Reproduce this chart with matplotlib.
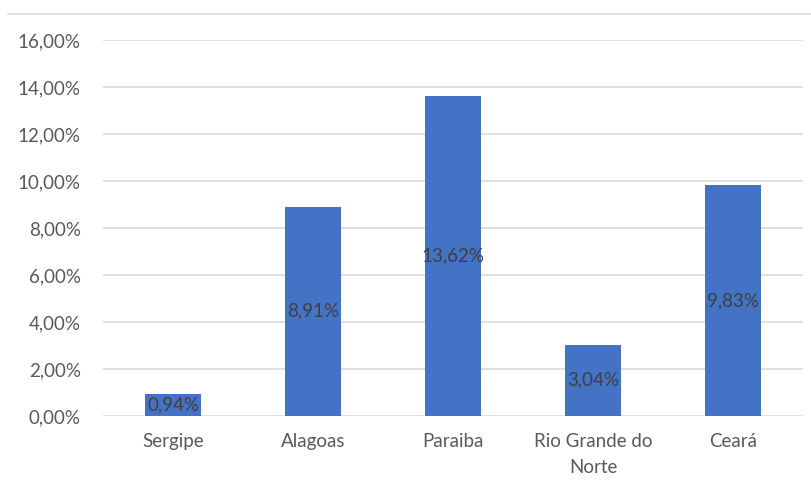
import matplotlib.pyplot as plt
from matplotlib.lines import Line2D
from matplotlib.ticker import FuncFormatter

estados = ["Sergipe", "Alagoas", "Paraiba", "Rio Grande do\nNorte", "Ceará"]
percentuais = [0.94, 8.91, 13.62, 3.04, 9.83]
yticks = [0, 2, 4, 6, 8, 10, 12, 14, 16]

plt.rcParams['font.family'] = ['Lato', 'DejaVu Sans']

fig = plt.figure(figsize=(8.11, 4.91), dpi=100)
ax = fig.add_axes([103 / 811, 1 - 416 / 491, 700 / 811, 376 / 491])

x = range(len(estados))
bars = ax.bar(x, percentuais, width=0.4, color="#4472C4", zorder=3)

for i, v in enumerate(percentuais):
    ax.text(i, v / 2, f"{v:.2f}%".replace(".", ","), ha="center", va="center",
            fontsize=13.5, color="#404040", zorder=4)

ax.set_xlim(-0.5, len(estados) - 0.5)
ax.set_ylim(0, 16)
ax.set_yticks(yticks)
ax.yaxis.set_major_formatter(FuncFormatter(lambda v, p: f"{v:.2f}%".replace(".", ",")))
ax.set_xticks(list(x))
ax.set_xticklabels(estados, linespacing=1.7)
ax.tick_params(axis="both", length=0, labelsize=13.5, colors="#595959")
ax.tick_params(axis="y", pad=16)
ax.tick_params(axis="x", pad=12)
ax.grid(axis="y", color="#D9D9D9", linewidth=1.2, zorder=0)
for s in ax.spines.values():
    s.set_visible(False)

# faixa superior do quadro
fig.add_artist(Line2D([8 / 811, 1], [1 - 14 / 491] * 2, color="#D9D9D9", linewidth=1.2))

fig.savefig("out.png", dpi=100)
